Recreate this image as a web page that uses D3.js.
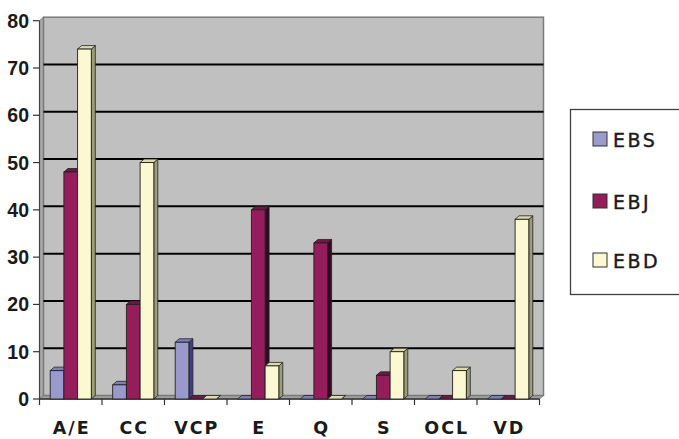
<!DOCTYPE html>
<html><head><meta charset="utf-8">
<script src="https://cdn.jsdelivr.net/npm/d3@7"></script>
<style>body{margin:0;background:#fff}svg{display:block}</style>
</head><body>
<script>
const categories = ["A/E","CC","VCP","E","Q","S","OCL","VD"];
const seriesNames = ["EBS","EBJ","EBD"];
const EBS = [6,3,12,0,0,0,0,0];
const EBJ = [48,20,0,40,33,5,0,0];
const EBD = [74,50,0,7,0,10,6,38];
const yTicks = [0,10,20,30,40,50,60,70,80];
const seriesValues = [EBS, EBJ, EBD];

const colors = {
  EBS: {front:"#9999CC", top:"#7F7FB8", side:"#3F3F80"},
  EBJ: {front:"#951D5B", top:"#6E1844", side:"#2E0C1E"},
  EBD: {front:"#FBF8D2", top:"#DCDAAE", side:"#9D9C78"}
};

const W = 679, H = 439;
const dx = 4, dy = 3.5;
const svg = d3.select("body").append("svg").attr("width", W).attr("height", H);

const x = d3.scaleBand().domain(categories).range([39.5, 539.5]).padding(0);
const xs = d3.scaleBand().domain(seriesNames).range([0, x.bandwidth()]).paddingInner(0).paddingOuter(0.78);
const y = d3.scaleLinear().domain([0, 80]).range([399, 20.7]);

const x0 = x.range()[0], x1 = x.range()[1];
const yTop = y(80), yBot = y(0);

// walls
svg.append("polygon")
  .attr("points", [[x0,yTop],[x0+dx,yTop-dy],[x0+dx,yBot-dy],[x0,yBot]].join(" "))
  .attr("fill","#A9A9A9").attr("stroke","#808080").attr("stroke-width",1);
svg.append("polygon")
  .attr("points", [[x0,yBot],[x0+dx,yBot-dy],[x1+dx,yBot-dy],[x1,yBot]].join(" "))
  .attr("fill","#A0A0A0").attr("stroke","#808080").attr("stroke-width",1);
svg.append("rect")
  .attr("x", x0+dx).attr("y", yTop-dy).attr("width", x1-x0).attr("height", yBot-yTop)
  .attr("fill","#C0C0C0").attr("stroke","#7A7A7A").attr("stroke-width",1.5);

// gridlines
svg.append("g").selectAll("line").data(yTicks.filter(v => v > 0 && v < 80)).join("line")
  .attr("x1", x0+dx).attr("x2", x1+dx)
  .attr("y1", d => y(d)-dy).attr("y2", d => y(d)-dy)
  .attr("stroke","#000").attr("stroke-width",2);

// front edges
svg.append("line").attr("x1",x0).attr("x2",x0).attr("y1",yTop).attr("y2",yBot).attr("stroke","#444").attr("stroke-width",1.2);
svg.append("line").attr("x1",x0).attr("x2",x1).attr("y1",yBot).attr("y2",yBot).attr("stroke","#333").attr("stroke-width",1.5);

// bars
const barData = [];
categories.forEach((c, i) => {
  seriesNames.forEach((s, j) => barData.push({c, s, v: seriesValues[j][i]}));
});
const w = xs.bandwidth();
const bars = svg.append("g").selectAll("g").data(barData).join("g");
bars.each(function(d) {
  const g = d3.select(this);
  const bx = x(d.c) + xs(d.s), yv = y(d.v), y0 = y(0);
  const col = colors[d.s];
  g.append("polygon")
    .attr("points", [[bx+w,yv],[bx+w+dx,yv-dy],[bx+w+dx,y0-dy],[bx+w,y0]].join(" "))
    .attr("fill", col.side).attr("stroke","#222").attr("stroke-width",0.8).attr("stroke-linejoin","round");
  g.append("polygon")
    .attr("points", [[bx,yv],[bx+dx,yv-dy],[bx+w+dx,yv-dy],[bx+w,yv]].join(" "))
    .attr("fill", col.top).attr("stroke","#222").attr("stroke-width",0.8).attr("stroke-linejoin","round");
  if (y0 - yv > 0) {
    g.append("rect").attr("x", bx).attr("y", yv).attr("width", w).attr("height", y0-yv)
      .attr("fill", col.front).attr("stroke","#222").attr("stroke-width",0.9);
  }
});

// y axis
const yAxis = svg.append("g");
yAxis.selectAll("line").data(yTicks).join("line")
  .attr("x1", 33).attr("x2", x0).attr("y1", d => y(d)).attr("y2", d => y(d))
  .attr("stroke","#333").attr("stroke-width",1.2);
yAxis.selectAll("text").data(yTicks).join("text")
  .attr("x", 29).attr("y", d => y(d)).attr("dy","0.36em")
  .attr("text-anchor","end")
  .attr("font-family","Liberation Sans, Arial, sans-serif").attr("font-weight","bold")
  .attr("font-size",19.5).attr("fill","#1a1a1a")
  .text(d => d);

// x axis
const xAxis = svg.append("g");
const bounds = categories.map(c => x(c)).concat([x1]);
xAxis.selectAll("line").data(bounds).join("line")
  .attr("x1", d => d).attr("x2", d => d).attr("y1", yBot).attr("y2", yBot+6)
  .attr("stroke","#333").attr("stroke-width",1.2);
xAxis.selectAll("text").data(categories).join("text")
  .attr("x", d => x(d) + x.bandwidth()/2 + 1).attr("y", 428).attr("dy","0.36em")
  .attr("text-anchor","middle")
  .attr("font-family","DejaVu Sans, sans-serif").attr("font-weight","bold")
  .attr("font-size",17.5).attr("letter-spacing","2px").attr("fill","#1a1a1a")
  .text(d => d);

// legend
const lg = svg.append("g");
lg.append("rect").attr("x",570.5).attr("y",109.5).attr("width",120).attr("height",185)
  .attr("fill","#fff").attr("stroke","#404040").attr("stroke-width",1.3);
const legY = [139, 201, 260];
seriesNames.forEach((s, i) => {
  lg.append("rect").attr("x",593).attr("y",legY[i]-7).attr("width",14).attr("height",14)
    .attr("fill",colors[s].front).attr("stroke","#333").attr("stroke-width",1);
  lg.append("text").attr("x",613).attr("y",legY[i]+1).attr("dy","0.36em")
    .attr("font-family","DejaVu Sans, sans-serif").attr("font-size",19)
    .attr("letter-spacing","2.5px").attr("fill","#1a1a1a")
    .attr("stroke","#1a1a1a").attr("stroke-width",0.4)
    .text(s);
});
</script>
</body></html>
